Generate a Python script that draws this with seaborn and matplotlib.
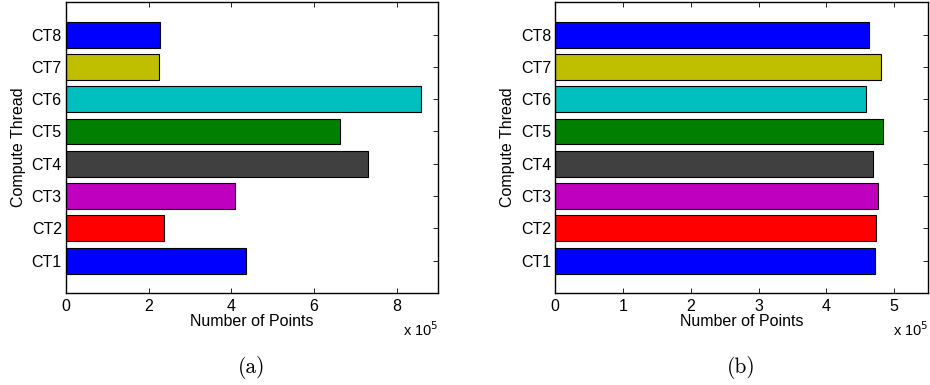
import matplotlib
matplotlib.use("Agg")
import matplotlib.pyplot as plt
import seaborn as sns
import pandas as pd

threads = ["CT1", "CT2", "CT3", "CT4", "CT5", "CT6", "CT7", "CT8"]
# Points per compute thread, in units of 1e5
points_a = [4.35, 2.38, 4.10, 7.31, 6.63, 8.58, 2.26, 2.28]
points_b = [4.72, 4.73, 4.76, 4.68, 4.83, 4.59, 4.81, 4.63]
bar_colors = ["#0000ff", "#ff0000", "#bf00bf", "#404040",
              "#007f00", "#00bfbf", "#bfbf00", "#0000ff"]
captions = ["(a)", "(b)"]
xticks_a = [0, 2, 4, 6, 8]
xticks_b = [0, 1, 2, 3, 4, 5]

sns.set_theme(style="white", rc={"text.color": "black",
                                 "axes.labelcolor": "black",
                                 "xtick.color": "black",
                                 "ytick.color": "black"})
plt.rcParams["font.family"] = ["Liberation Sans", "DejaVu Sans"]

fig = plt.figure(figsize=(9.3, 3.85), dpi=100)
ax_a = fig.add_axes([0.071, 0.239, 0.400, 0.755])
ax_b = fig.add_axes([0.597, 0.239, 0.401, 0.755])

palette = dict(zip(threads, bar_colors))
order = threads[::-1]

for ax, vals, xmax, xticks, cap in [
    (ax_a, points_a, 9, xticks_a, captions[0]),
    (ax_b, points_b, 5.5, xticks_b, captions[1]),
]:
    df = pd.DataFrame({"thread": threads, "points": vals})
    sns.barplot(data=df, x="points", y="thread", hue="thread", order=order,
                hue_order=threads, palette=palette, orient="h", width=0.8,
                edgecolor="black", linewidth=0.8, saturation=1, legend=False,
                ax=ax)
    ax.set_xlim(0, xmax)
    ax.set_ylim(8, -1)
    ax.set_xticks(xticks)
    ax.set_xticklabels([str(t) for t in xticks])
    ax.set_xlabel("Number of Points", fontsize=11.5, labelpad=0)
    ax.set_ylabel("Compute Thread", fontsize=11.5, labelpad=4)
    ax.tick_params(axis="both", which="both", direction="in", length=3.5,
                   width=0.6, color="black", labelsize=11.5, top=True,
                   right=True, left=True, bottom=True)
    ax.tick_params(axis="x", pad=4)
    ax.tick_params(axis="y", pad=3)
    for sp in ax.spines.values():
        sp.set_visible(True)
        sp.set_color("black")
        sp.set_linewidth(1.0)
    ax.text(1.0, -0.095, r"x 10$^5$", transform=ax.transAxes, ha="right",
            va="top", fontsize=10.5)
    ax.text(0.5, -0.258, cap, transform=ax.transAxes, ha="center",
            va="center", fontsize=15.5, family=["cmr10", "DejaVu Serif"])

fig.savefig("out.png", dpi=100)
